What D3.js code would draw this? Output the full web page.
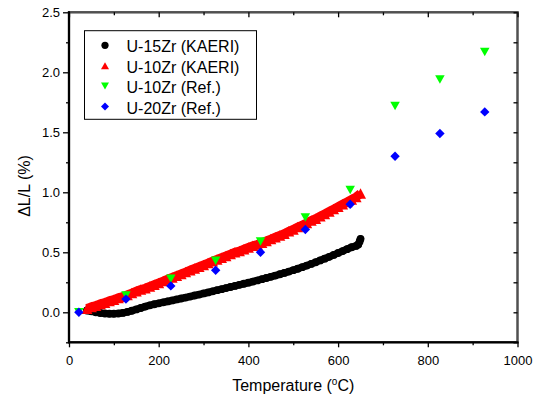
<html>
<head>
<meta charset="utf-8">
<script src="https://cdn.jsdelivr.net/npm/d3@7"></script>
<style>
body{
  margin:0;
  padding:0;
  background:white;
  overflow:hidden;
}
text{
  font-family: 'Liberation Sans', Arial, sans-serif;
  fill: black;
}
</style>
</head>
<body>
<div id="chart"></div>
<script>
//========== DATA =============
var u15T = [40,50,60,70,80,90,100,110,120,130,140,150,160,170,180,190,200,210,220,230,240,250,260,270,280,290,300,310,320,330,340,350,360,370,380,390,400,410,420,430,440,450,460,470,480,490,500,510,520,530,540,550,560,570,580,590,600,610,620,630,640,645,648,650];
var u15Val = [0.015,0.008,0.0,-0.006,-0.01,-0.012,-0.012,-0.01,-0.005,0.003,0.013,0.024,0.036,0.048,0.058,0.067,0.075,0.083,0.091,0.099,0.107,0.115,0.123,0.131,0.14,0.148,0.157,0.166,0.175,0.184,0.193,0.202,0.211,0.22,0.229,0.238,0.247,0.256,0.266,0.276,0.286,0.296,0.306,0.317,0.328,0.339,0.351,0.363,0.376,0.389,0.403,0.417,0.432,0.447,0.462,0.478,0.494,0.51,0.526,0.542,0.553,0.565,0.59,0.612];

// U-10Zr (KAERI)
var u10T = [40,50,60,70,80,90,100,110,120,130,140,150,160,170,180,190,200,210,220,230,240,250,260,270,280,290,300,310,320,330,340,350,360,370,380,390,400,410,420,430,440,450,460,470,480,490,500,510,520,530,540,550,560,570,580,590,600,610,620,630,640,650];
var u10Val = [0.03,0.045,0.055,0.07,0.08,0.095,0.105,0.12,0.13,0.145,0.16,0.175,0.19,0.2,0.215,0.23,0.245,0.26,0.275,0.29,0.305,0.32,0.335,0.35,0.365,0.38,0.395,0.41,0.425,0.44,0.455,0.47,0.485,0.5,0.51,0.525,0.54,0.555,0.565,0.58,0.595,0.61,0.625,0.64,0.655,0.675,0.69,0.71,0.725,0.745,0.765,0.78,0.8,0.82,0.84,0.86,0.88,0.9,0.92,0.94,0.96,0.99];

// reference points
var refT = [22,127,227,327,427,527,627,727,827,927];
var u10RefVal = [0.0,0.14,0.28,0.43,0.59,0.79,1.02,1.72,1.94,2.17];
var u20RefVal = [0.0,0.11,0.22,0.35,0.50,0.69,0.90,1.30,1.49,1.67];

var xTicks = [0,200,400,600,800,1000];
var yTicks = [0.0,0.5,1.0,1.5,2.0,2.5];

var legendNames = ["U-15Zr (KAERI)","U-10Zr (KAERI)","U-10Zr (Ref.)","U-20Zr (Ref.)"];

//========== SVG VIEW =============
var width = 542, height = 403;
var margin = {left:69, right:24.5, top:12.3, bottom:60.7};

var svg = d3.select("#chart").append("svg")
    .attr("width", width).attr("height", height);

var x = d3.scaleLinear().domain([0,1000]).range([margin.left, width-margin.right]);
var y = d3.scaleLinear().domain([-0.25,2.5]).range([height-margin.bottom, margin.top]);

// marker shapes
var upTri = (w,h) => `M${-w/2},${h/2}L${w/2},${h/2}L0,${-h/2}Z`;
var downTri = (w,h) => `M${-w/2},${-h/2}L${w/2},${-h/2}L0,${h/2}Z`;
var diamond = r => `M0,${-r}L${r},0L0,${r}L${-r},0Z`;

//========== FRAME =============
var px0 = x(0), px1 = x(1000), pyTop = y(2.5), pyBot = y(-0.25);

// grey box, then black left/bottom sides over it
svg.append("rect").attr("class","plotFrame")
  .attr("x",px0).attr("y",pyTop).attr("width",px1-px0).attr("height",pyBot-pyTop)
  .style("fill","none").style("stroke","#505050").style("stroke-width","2.5px");
svg.append("polyline").attr("class","plotFrame")
  .attr("points",`${px0},${pyTop-1} ${px0},${pyBot} ${px1+1},${pyBot}`)
  .style("fill","none").style("stroke","black").style("stroke-width","2px");

//========== AXES =============
var fmt = d3.format(".1f");
var minorY = [-0.25,0.25,0.75,1.25,1.75,2.25];
var minorX = d3.range(100,1000,200);

var axes = svg.append("g");

// minor ticks
axes.append("g").attr("transform",`translate(0,${pyBot})`)
  .call(d3.axisBottom(x).tickValues(minorX).tickSize(3).tickFormat(""));
axes.append("g").attr("transform",`translate(${px0},0)`)
  .call(d3.axisLeft(y).tickValues(minorY).tickSize(3).tickFormat(""));
axes.append("g").attr("transform",`translate(0,${pyTop})`)
  .call(d3.axisBottom(x).tickValues(minorX).tickSize(3).tickFormat(""));
axes.append("g").attr("transform",`translate(${px1},0)`)
  .call(d3.axisLeft(y).tickValues(minorY).tickSize(4).tickFormat(""));

// top / right ticks (inward)
axes.append("g").attr("transform",`translate(0,${pyTop})`)
  .call(d3.axisBottom(x).tickValues(xTicks).tickSize(5).tickFormat(""));
axes.append("g").attr("transform",`translate(${px1},0)`)
  .call(d3.axisLeft(y).tickValues(yTicks).tickSize(4).tickFormat(""));

// bottom / left with labels
axes.append("g").attr("class","xAxis").attr("transform",`translate(0,${pyBot})`)
  .call(d3.axisBottom(x).tickValues(xTicks).tickSize(5).tickPadding(8).tickFormat(d3.format("d")));
axes.append("g").attr("class","yAxis").attr("transform",`translate(${px0},0)`)
  .call(d3.axisLeft(y).tickValues(yTicks).tickSize(6).tickPadding(3).tickFormat(fmt));

axes.selectAll(".tick line").attr("stroke","black").attr("stroke-width",1.3);
axes.selectAll("path.domain").remove();
axes.selectAll(".xAxis text, .yAxis text")
  .attr("font-size",13).attr("font-family","'Liberation Sans', Arial, sans-serif").attr("fill","black");

// axis titles
var xTitle = svg.append("text").attr("x",(px0+px1)/2).attr("y",391)
  .attr("text-anchor","middle").attr("font-size",16);
xTitle.append("tspan").text("Temperature (");
xTitle.append("tspan").attr("font-size",10).attr("dy",-6).text("o");
xTitle.append("tspan").attr("dy",6).text("C)");

svg.append("text").attr("transform","translate(29.5,186) rotate(-90)")
  .attr("text-anchor","middle").attr("font-size",16).text("\u0394L/L (%)");

//========== SERIES =============
var view = svg.append("g");

var u15Line = d3.line().x(d=>x(d)).y((d,i)=>y(u15Val[i]));
var u10Line = d3.line().x(d=>x(d)).y((d,i)=>y(u10Val[i]));

// dense marker curves: a thick band plus the markers on top of it
view.append("path").datum(u15T).attr("d",u15Line)
  .attr("fill","none").attr("stroke","black").attr("stroke-width",7.2).attr("stroke-linecap","round");
view.selectAll("u15").data(u15T).enter().append("circle")
  .attr("cx",d=>x(d)).attr("cy",(d,i)=>y(u15Val[i])).attr("r",3.9).attr("fill","black");

view.append("path").datum(u10T).attr("d",u10Line)
  .attr("fill","none").attr("stroke","#ff0000").attr("stroke-width",9);
view.selectAll("u10").data(u10T).enter().append("path")
  .attr("d",upTri(11,10.5))
  .attr("transform",(d,i)=>`translate(${x(d)},${y(u10Val[i])})`).attr("fill","#ff0000");

view.selectAll("u10ref").data(refT).enter().append("path")
  .attr("d",downTri(9.5,8.5))
  .attr("transform",(d,i)=>`translate(${x(d)},${y(u10RefVal[i])})`).attr("fill","#00ff00");

view.selectAll("u20ref").data(refT).enter().append("path")
  .attr("d",diamond(4.7))
  .attr("transform",(d,i)=>`translate(${x(d)},${y(u20RefVal[i])})`).attr("fill","#0000ff");

//========== LEGEND =============
var legend = svg.append("g");
legend.append("rect").attr("x",84.5).attr("y",30.7).attr("width",172).attr("height",88.6)
  .style("fill","white").style("stroke","black").style("stroke-width","1px");

var legendColors = ["black","#ff0000","#00ff00","#0000ff"];
var legendShapes = [null, upTri(8,7), downTri(8,7), diamond(4)];

legendNames.forEach((name,i)=>{
  var base = 52.3 + i*20.4;
  if (i===0) {
    legend.append("circle").attr("cx",105).attr("cy",base-7).attr("r",3.6).attr("fill","black");
  } else {
    legend.append("path").attr("d",legendShapes[i])
      .attr("transform",`translate(105,${base-7})`).attr("fill",legendColors[i]);
  }
  legend.append("text").attr("x",126.5).attr("y",base).attr("font-size",16).text(name);
});
</script>
</body>
</html>
